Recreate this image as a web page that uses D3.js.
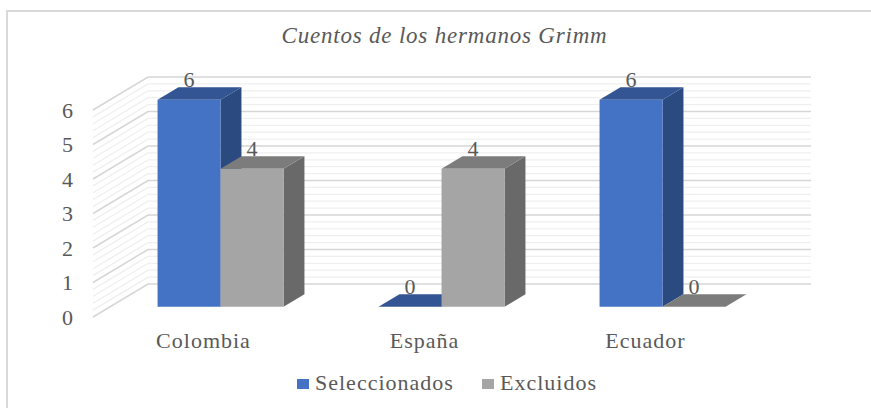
<!DOCTYPE html>
<html>
<head>
<meta charset="utf-8">
<script src="https://cdn.jsdelivr.net/npm/d3@7"></script>
<style>
body { margin: 0; background: #fff; }
text { font-family: "Liberation Serif", serif; fill: #595959; }
</style>
</head>
<body>
<svg id="svgmain" width="871" height="408"></svg>
<script>
var categories = ["Colombia", "España", "Ecuador"]
var seriesNames = ["Seleccionados", "Excluidos"]
var seleccionados = [6, 0, 6]
var excluidos = [4, 4, 0]
var yTicks = [0, 1, 2, 3, 4, 5, 6]
var minorTicks = [0, 0.2, 0.4, 0.6, 0.8, 1, 1.2, 1.4, 1.6, 1.8, 2, 2.2, 2.4, 2.6, 2.8, 3, 3.2, 3.4, 3.6, 3.8, 4, 4.2, 4.4, 4.6, 4.8, 5, 5.2, 5.4, 5.6, 5.8, 6]
var chartTitle = "Cuentos de los hermanos Grimm"

var frontColors = ["#4472c4", "#a5a5a5"]
var topColors = ["#335593", "#7c7c7c"]
var sideColors = ["#2a4a80", "#696969"]

var svg = d3.select("#svgmain")

// front plane of the 3d box, everything else is projected back from it
var x = d3.scaleBand().domain(categories).range([93, 756])
var y = d3.scaleLinear().domain([0, 6]).range([317, 110])
var depthX = d3.scaleLinear().domain([0, 1]).range([0, 55])
var depthY = d3.scaleLinear().domain([0, 1]).range([0, -33])
var barWidth = 63
var barDepth0 = 0.31
var barDepth1 = 0.69

function pt(px, v, d) {
    return [px + depthX(d), y(v) + depthY(d)]
}
var line = d3.line()

// frame
svg.append("path")
    .attr("d", "M7,408V11H871")
    .attr("fill", "none")
    .attr("stroke", "#d9d9d9")
    .attr("stroke-width", 2)

svg.append("text")
    .attr("x", 444.5)
    .attr("y", 43)
    .attr("text-anchor", "middle")
    .attr("font-size", 23)
    .attr("font-style", "italic")
    .attr("letter-spacing", 0.8)
    .text(chartTitle)

// walls
var wall = svg.append("g")
minorTicks.forEach(function(t) {
    var major = yTicks.indexOf(t) >= 0
    wall.append("path")
        .attr("d", line([pt(x.range()[0], t, 0), pt(x.range()[0], t, 1), pt(x.range()[1], t, 1)]))
        .attr("fill", "none")
        .attr("stroke", major ? "#d6d6d6" : "#efefef")
        .attr("stroke-width", major ? 1.5 : 1.3)
})

// axes
var yAxis = svg.append("g")
    .attr("transform", "translate(74,0)")
    .call(d3.axisLeft(y).tickValues(yTicks).tickFormat(d3.format("d")).tickSize(0).tickPadding(0))
var xAxis = svg.append("g")
    .attr("transform", "translate(0,332)")
    .call(d3.axisBottom(x).tickSize(0).tickPadding(0))
svg.selectAll(".domain").remove()
svg.selectAll(".tick text")
    .attr("font-size", 22)
    .attr("letter-spacing", 1)
    .style("font-family", '"Liberation Serif", serif')
    .attr("fill", "#595959")

// bars, blue first so gray sits on top of its side face
var bars = svg.append("g")
var seriesValues = [seleccionados, excluidos]
categories.forEach(function(cat, i) {
    seriesValues.forEach(function(values, s) {
        var v = values[i]
        var left = x(cat) + x.bandwidth() / 2 - barWidth + s * barWidth
        var right = left + barWidth
        var a = pt(left, v, barDepth0), b = pt(right, v, barDepth0)
        var c = pt(right, v, barDepth1), d = pt(left, v, barDepth1)
        var e = pt(right, 0, barDepth0), f = pt(right, 0, barDepth1)
        var g = pt(left, 0, barDepth0)
        bars.append("path").attr("d", line([b, c, f, e]) + "Z").attr("fill", sideColors[s])
        bars.append("path").attr("d", line([a, b, c, d]) + "Z").attr("fill", topColors[s])
        bars.append("path").attr("d", line([a, b, e, g]) + "Z").attr("fill", frontColors[s])
        bars.append("text")
            .attr("x", a[0] + barWidth / 2)
            .attr("y", d[1])
            .attr("text-anchor", "middle")
            .attr("font-size", 22)
            .text(v)
    })
})

// legend
var legendX = [297, 482]
var legend = svg.append("g")
seriesNames.forEach(function(name, s) {
    legend.append("rect")
        .attr("x", legendX[s])
        .attr("y", 379)
        .attr("width", 12)
        .attr("height", 10)
        .attr("fill", frontColors[s])
    legend.append("text")
        .attr("x", legendX[s] + 18)
        .attr("y", 390)
        .attr("font-size", 22)
        .attr("letter-spacing", 1)
        .text(name)
})
</script>
</body>
</html>
